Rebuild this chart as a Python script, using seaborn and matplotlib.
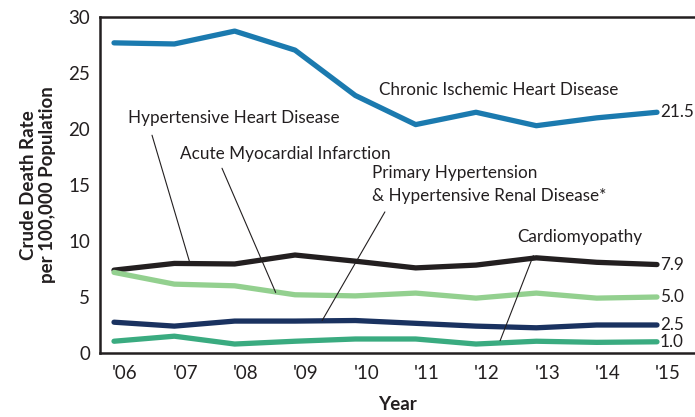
import numpy as np
import pandas as pd
import matplotlib
matplotlib.use("Agg")
import matplotlib.pyplot as plt
import seaborn as sns

years = ["'06", "'07", "'08", "'09", "'10", "'11", "'12", "'13", "'14", "'15"]
chronic_ischemic = [27.7, 27.6, 28.75, 27.05, 23.0, 20.4, 21.5, 20.3, 21.0, 21.5]
hypertensive_heart = [7.4, 8.0, 7.95, 8.75, 8.2, 7.6, 7.85, 8.5, 8.1, 7.9]
acute_mi = [7.2, 6.15, 6.0, 5.2, 5.1, 5.35, 4.9, 5.35, 4.9, 5.0]
primary_hypertension = [2.75, 2.4, 2.85, 2.85, 2.9, 2.65, 2.4, 2.25, 2.5, 2.5]
cardiomyopathy = [1.05, 1.5, 0.8, 1.05, 1.25, 1.25, 0.8, 1.05, 0.95, 1.0]
end_labels = ["21.5", "7.9", "5.0", "2.5", "1.0"]

series = {
    "Chronic Ischemic Heart Disease": chronic_ischemic,
    "Hypertensive Heart Disease": hypertensive_heart,
    "Acute Myocardial Infarction": acute_mi,
    "Primary Hypertension": primary_hypertension,
    "Cardiomyopathy": cardiomyopathy,
}
colors = {
    "Chronic Ischemic Heart Disease": "#1b7aaf",
    "Hypertensive Heart Disease": "#231f20",
    "Acute Myocardial Infarction": "#93d08f",
    "Primary Hypertension": "#1a3260",
    "Cardiomyopathy": "#3aab80",
}

rows = []
for name, vals in series.items():
    for i, v in enumerate(vals):
        rows.append({"x": i, "year": years[i], "value": v, "series": name})
df = pd.DataFrame(rows)

sns.set_style("white")
plt.rcParams["font.family"] = ["Lato", "DejaVu Sans"]

fig = plt.figure(figsize=(6.95, 4.17), dpi=100)
ax = fig.add_axes([0.1439, 0.1535, 0.8561, 0.8055])

sns.lineplot(data=df, x="x", y="value", hue="series", palette=colors,
             linewidth=3.8, legend=False, ax=ax, solid_capstyle="round")

ax.set_xlim(-0.232, 9.63)
ax.set_ylim(0, 30)
ax.set_yticks([0, 5, 10, 15, 20, 25, 30])
ax.set_xticks(np.arange(len(years)) + 0.18)
ax.set_xticklabels(years)
ax.tick_params(axis="both", length=0, labelsize=13.5, colors="#231f20")
ax.tick_params(axis="x", pad=9)
ax.tick_params(axis="y", pad=7)

for s in ["left", "top", "bottom"]:
    ax.spines[s].set_visible(True)
    ax.spines[s].set_color("#231f20")
    ax.spines[s].set_linewidth(1.8)
ax.spines["right"].set_visible(False)

ax.set_xlabel("Year", fontsize=13.5, fontweight="bold", color="#231f20", labelpad=10)
ax.set_ylabel("Crude Death Rate\nper 100,000 Population", fontsize=13.5,
              fontweight="bold", color="#231f20", labelpad=9, linespacing=1.1)

# end labels
for (name, vals), lab in zip(series.items(), end_labels):
    ax.text(9.05, vals[-1], lab, fontsize=12.3, va="center", ha="left", color="#231f20")

tk = dict(fontsize=12.3, color="#231f20")
ax.text(4.4, 23.5, "Chronic Ischemic Heart Disease", ha="left", va="center", **tk)
ax.text(0.23, 21.0, "Hypertensive Heart Disease", ha="left", va="center", **tk)
ax.text(1.1, 17.8, "Acute Myocardial Infarction", ha="left", va="center", **tk)
ax.text(4.27, 16.1, "Primary Hypertension", ha="left", va="center", **tk)
ax.text(4.27, 14.05, "& Hypertensive Renal Disease*", ha="left", va="center", **tk)
ax.text(6.68, 10.35, "Cardiomyopathy", ha="left", va="center", **tk)

lk = dict(color="#231f20", linewidth=0.8)
ax.plot([0.63, 1.26], [19.45, 8.0], **lk)
ax.plot([1.79, 2.68], [16.5, 5.4], **lk)
ax.plot([4.49, 3.45], [12.6, 2.9], **lk)
ax.plot([6.95, 6.4], [8.7, 1.1], **lk)

fig.savefig("out.png", dpi=100)
